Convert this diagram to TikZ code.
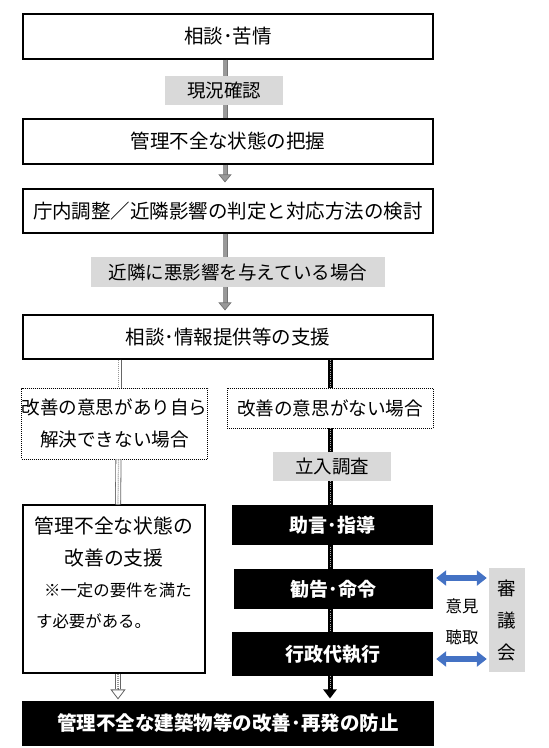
\documentclass[tikz,border=0pt]{standalone}
\usepackage{fontspec}
\newfontfamily\jp{Noto Sans CJK JP}
\usepackage{tikz}
\usetikzlibrary{positioning,arrows.meta,calc}

\definecolor{arrowblue}{RGB}{68,114,196}

\tikzset{
  box/.style={draw, line width=1.1pt, fill=white, minimum width=410pt, minimum height=45pt, inner sep=0pt,
    font=\jp\fontsize{19.5}{22}\selectfont},
  tag/.style={fill=gray!30, inner sep=0pt, minimum height=29pt, font=\jp\fontsize{18.5}{22}\selectfont},
  dotbox/.style={draw, densely dotted, line width=1pt, fill=white, inner sep=0pt,
    font=\jp\fontsize{18.6}{32}\selectfont},
  blkbox/.style={fill=black, text=white, inner sep=0pt, minimum height=40pt,
    font=\jp\bfseries\fontsize{19}{22}\selectfont},
  txt/.style={inner sep=0pt, font=\jp\fontsize{19.8}{22}\selectfont},
  small/.style={inner sep=0pt, font=\jp\fontsize{16.4}{20}\selectfont},
  % gray arrows on the top part
  grayrim/.style={line width=5pt, black!55},
  grayshaft/.style={line width=3.4pt, gray!80},
  grayhead/.style={grayshaft, -{Triangle[width=13pt,length=8pt,line width=0.7pt,fill=gray!80,color=black!55]}},
  % white dotted arrow on the left
  whiterim/.style={line width=6pt, black!60},
  whiteshaft/.style={line width=4.4pt, white},
  whitedots/.style={line width=1.2pt, gray!80, dash pattern=on 1pt off 1pt},
  % black dotted arrow on the right
  blackshaft/.style={line width=5pt, black},
  blackdots/.style={line width=0.9pt, gray!60, dash pattern=on 1pt off 1.2pt},
  bluearr/.style={line width=6pt, arrowblue,
    {Triangle[width=15pt,length=10pt]}-{Triangle[width=15pt,length=10pt]}},
}

\begin{document}
\begin{tikzpicture}[x=1pt, y=-1pt]
  \useasboundingbox (0,0) rectangle (549,748);

  % main column
  \node[box] (soudan) at (228,36.5) {相談･苦情};
  \node[box] (haaku)  at (228,141.5) {管理不全な状態の把握};
  \node[box, minimum height=44pt] (kento) at (228,211) {庁内調整／近隣影響の判定と対応方法の検討};
  \node[box, minimum height=44pt] (sien)  at (228,337) {相談･情報提供等の支援};

  % arrows of the top part
  \draw[grayrim]   ([xshift=-3pt]soudan.south) -- ([xshift=-3pt]haaku.north);
  \draw[grayshaft] ([xshift=-3pt]soudan.south) -- ([xshift=-3pt]haaku.north);
  \draw[grayrim, shorten >=12pt] ([xshift=-3pt]haaku.south) -- ([xshift=-3pt]kento.north);
  \draw[grayhead, shorten >=6pt] ([xshift=-3pt]haaku.south) -- ([xshift=-3pt]kento.north);
  \draw[grayrim, shorten >=10pt] ([xshift=-3pt]kento.south) -- ([xshift=-3pt]sien.north);
  \draw[grayhead, shorten >=4pt] ([xshift=-3pt]kento.south) -- ([xshift=-3pt]sien.north);

  \node[tag, minimum width=118pt] (genkyo) at (224,90.5) {現況確認};
  \node[tag, minimum width=294pt, minimum height=30pt] (kinrin) at (238,272) {近隣に悪影響を与えている場合};

  % two branches
  \node[dotbox, minimum width=183pt, minimum height=71pt, align=center] (ari) at (114.5,423.5)
    {改善の意思があり自ら\\解決できない場合};
  \node[dotbox, minimum width=206pt, minimum height=40pt] (nasi) at (330,408) {改善の意思がない場合};

  \node[box, minimum width=182pt, minimum height=168pt] (kaizen) at (114,589) {};
  \node[box, minimum height=43pt, fill=black, text=white, font=\jp\bfseries\fontsize{19.5}{22}\selectfont]
    (final) at (228,723.5) {管理不全な建築物等の改善･再発の防止};

  % left arrow (white, dotted)
  \draw[whiterim]   ([xshift=4pt]sien.south -| ari) -- ([xshift=4pt]ari.north);
  \draw[whiteshaft] ([xshift=4pt]sien.south -| ari) -- ([xshift=4pt]ari.north);
  \draw[whitedots]  ([xshift=4pt]sien.south -| ari) -- ([xshift=4pt]ari.north);
  \draw[whiterim]   ([xshift=4pt]ari.south) -- ([xshift=4pt]kaizen.north);
  \draw[whiteshaft] ([xshift=4pt]ari.south) -- ([xshift=4pt]kaizen.north);
  \draw[whitedots]  ([xshift=4pt]ari.south) -- ([xshift=4pt]kaizen.north);
  \coordinate (ltip) at ([xshift=4pt]final.north -| kaizen);
  \draw[whiterim, shorten >=12pt] ([xshift=4pt]kaizen.south) -- (ltip);
  \draw[whiteshaft, shorten >=11pt] ([xshift=4pt]kaizen.south) -- (ltip);
  \draw[whitedots, shorten >=11pt] ([xshift=4pt]kaizen.south) -- (ltip);
  \draw[line width=0.8pt, black!60, shorten >=2pt,
    -{Triangle[open, width=15pt, length=10pt, fill=white, color=black!60]}]
    ($(ltip)+(0,13pt)$) -- (ltip);

  % right arrow (black, dotted)
  \draw[blackshaft, shorten >=3pt, -{Triangle[width=13pt,length=9pt]}] (sien.south -| nasi) -- (final.north -| nasi);
  \draw[blackdots, shorten >=12pt] (sien.south -| nasi) -- (final.north -| nasi);

  % boxes over the right arrow
  \node[dotbox, minimum width=206pt, minimum height=40pt] at (nasi) {改善の意思がない場合};
  \node[tag, minimum width=118pt] (tatiiri) at (332,466.5) {立入調査};
  \node[blkbox, minimum width=201pt] (jogen)   at (332.5,525) {助言･指導};
  \node[blkbox, minimum width=199pt] (kankoku) at (333.5,589) {勧告･命令};
  \node[blkbox, minimum width=201pt, minimum height=44pt] (gyosei) at (332.5,654) {行政代執行};

  % text in the left box
  \node[txt] (k1) at (114,526) {管理不全な状態の};
  \node[txt] (k2) at (114,558) {改善の支援};
  \node[small, anchor=west] (k3) at (44,590) {※一定の要件を満た};
  \node[small, anchor=west] (k4) at (36,621) {す必要がある。};

  % council
  \node[tag, minimum width=36pt, minimum height=104pt, align=center, font=\jp\fontsize{18.5}{32}\selectfont]
    (singi) at (507,620) {審\\議\\会};
  \node[small] (iken)  at (462,606) {意見};
  \node[small] (tyosyu) at (462,637) {聴取};
  \coordinate (b1) at ([shift={(3pt,11pt)}]kankoku.east);
  \coordinate (b2) at ([shift={(3pt,-5pt)}]gyosei.east);
  \draw[bluearr] (b1) -- ($(b1 -| singi.west)+(-2pt,0)$);
  \draw[bluearr] (b2) -- ($(b2 -| singi.west)+(-2pt,0)$);
\end{tikzpicture}
\end{document}
